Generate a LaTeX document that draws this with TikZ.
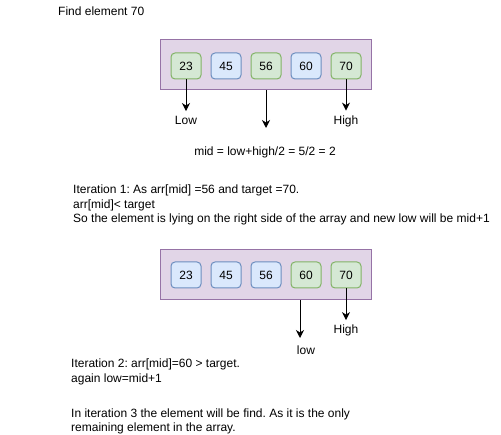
\documentclass[tikz,border=0pt]{standalone}
\usepackage{fontspec}
\setmainfont{Liberation Sans}
\usetikzlibrary{arrows.meta}
\definecolor{boxfill}{HTML}{E1D5E7}
\definecolor{boxline}{HTML}{9673A6}
\definecolor{gfill}{HTML}{D5E8D4}
\definecolor{gline}{HTML}{82B366}
\definecolor{bfill}{HTML}{DAE8FC}
\definecolor{bline}{HTML}{6C8EBF}
\frenchspacing

\begin{document}
\begin{tikzpicture}[x=1pt,y=-1pt,font=\fontsize{12}{14.5}\selectfont,
	arraybox/.style={draw=boxline,fill=boxfill,line width=1pt,minimum width=211pt,minimum height=50pt,inner sep=0pt},
	gcell/.style={draw=gline,fill=gfill,line width=1pt,rounded corners=4pt,minimum width=30pt,minimum height=26pt,inner sep=0pt},
	bcell/.style={draw=bline,fill=bfill,line width=1pt,rounded corners=4pt,minimum width=30pt,minimum height=26pt,inner sep=0pt},
	pointer/.style={line width=1pt,-{Stealth[length=8pt,width=8pt,inset=2.5pt]}},
	lbl/.style={anchor=base,inner sep=5pt}]
	\useasboundingbox (0,0) rectangle (501,435);

	\node at (58,16) [anchor=base west,inner sep=0pt]{Find element 70};

	\node (A) at (265.5,65) [arraybox]{};
	\node (a1) at (186,66) [gcell]{23};
	\node (a2) at (226,66) [bcell]{45};
	\node (a3) at (266,66) [gcell]{56};
	\node (a4) at (306,66) [bcell]{60};
	\node (a5) at (346,66) [gcell]{70};

	\node (low1) at (186,124.5) [lbl]{Low};
	\node (high1) at (346,124.5) [lbl]{High};
	\coordinate (mid1) at (266,128);
	\draw[pointer] (a1) -- (low1);
	\draw[pointer] (a5) -- (high1);
	\draw[pointer] (A.south -| mid1) -- (mid1);

	\node at (265,156) [anchor=base,inner sep=0pt]{mid = low+high/2 = 5/2 = 2};

	\node at (73,185) [anchor=north west,align=left,inner sep=0pt]{Iteration 1: As arr[mid] =56 and target =70.\\arr[mid]< target\\So the element is lying on the right side of the array and new low will be mid+1};

	\node (B) at (265.5,275) [arraybox]{};
	\node (b1) at (186,275) [bcell]{23};
	\node (b2) at (226,275) [bcell]{45};
	\node (b3) at (266,275) [bcell]{56};
	\node (b4) at (306,275) [gcell]{60};
	\node (b5) at (346,275) [gcell]{70};

	\node (high2) at (346,334) [lbl]{High};
	\node (low2) at (306,354.5) [lbl]{low};
	\coordinate (mid2) at (300,338);
	\draw[pointer] (b5) -- (high2);
	\draw[pointer] (B.south -| mid2) -- (mid2);

	\node at (71,359) [anchor=north west,align=left,inner sep=0pt]{Iteration 2: arr[mid]=60 > target.\\again low=mid+1};
	\node at (71,408.4) [anchor=north west,align=left,inner sep=0pt]{In iteration 3 the element will be find. As it is the only\\remaining element in the array.};
\end{tikzpicture}
\end{document}
